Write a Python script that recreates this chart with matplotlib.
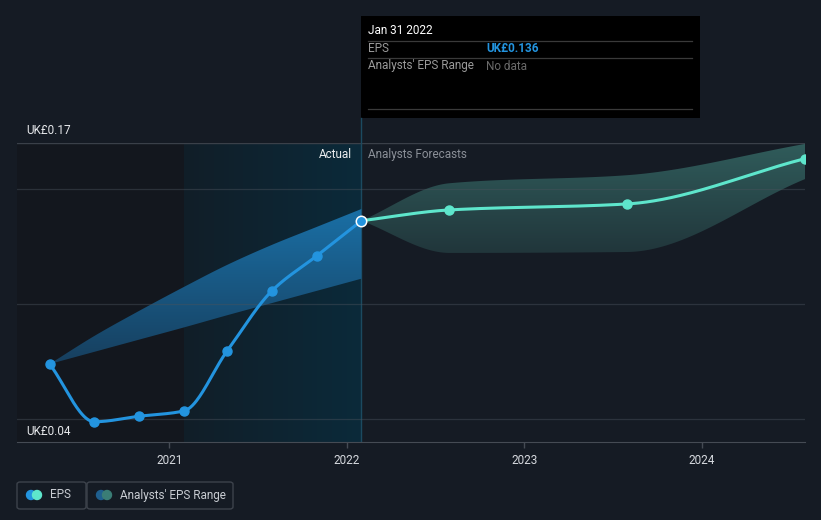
import numpy as np
import matplotlib
matplotlib.use("Agg")
import matplotlib.pyplot as plt
import matplotlib.dates as mdates
from matplotlib.colors import LinearSegmentedColormap
from matplotlib.patches import Rectangle, FancyBboxPatch, Ellipse
from matplotlib.lines import Line2D
from datetime import datetime

plt.rcParams['font.family'] = ['Roboto', 'DejaVu Sans']

# past EPS (actual)
past_dates = ["2020-04-30", "2020-07-31", "2020-10-31", "2021-01-31",
              "2021-04-30", "2021-07-31", "2021-10-31", "2022-01-31"]
past_eps = [0.0739, 0.0488, 0.0512, 0.0535, 0.0796, 0.1057, 0.1209, 0.1362]
past_hi = [0.0739, 0.0861, 0.0970, 0.1074, 0.1170, 0.1257, 0.1335, 0.1413]
past_lo = [0.0739, 0.0792, 0.0845, 0.0898, 0.0951, 0.1004, 0.1057, 0.1110]

# analysts forecasts
fc_dates = ["2022-01-31", "2022-07-31", "2023-07-31", "2024-07-31"]
fc_eps = [0.1362, 0.1409, 0.1435, 0.1632]
fc_hi = [0.1362, 0.1525, 0.1560, 0.1696]
fc_lo = [0.1362, 0.1222, 0.1226, 0.1543]

year_ticks = ["2021-01-01", "2022-01-01", "2023-01-01", "2024-01-01"]
year_labels = ["2021", "2022", "2023", "2024"]

BG = "#151b24"
BLUE = "#2394df"
TEAL = "#5ee6cc"


def d(s):
    return mdates.date2num(datetime.strptime(s, "%Y-%m-%d"))


def pchip(x, y, xs):
    x = np.asarray(x, float)
    y = np.asarray(y, float)
    h = np.diff(x)
    delta = np.diff(y) / h
    n = len(x)
    m = np.zeros(n)
    for k in range(1, n - 1):
        if delta[k - 1] * delta[k] > 0:
            w1 = 2 * h[k] + h[k - 1]
            w2 = h[k] + 2 * h[k - 1]
            m[k] = (w1 + w2) / (w1 / delta[k - 1] + w2 / delta[k])
    m[0] = delta[0]
    m[-1] = delta[-1]
    out = np.empty_like(xs)
    for i, xv in enumerate(xs):
        k = min(max(np.searchsorted(x, xv) - 1, 0), n - 2)
        t = (xv - x[k]) / h[k]
        h00 = 2 * t**3 - 3 * t**2 + 1
        h10 = t**3 - 2 * t**2 + t
        h01 = -2 * t**3 + 3 * t**2
        h11 = t**3 - t**2
        out[i] = h00 * y[k] + h10 * h[k] * m[k] + h01 * y[k + 1] + h11 * h[k] * m[k + 1]
    return out


def gradient_band(ax, xs, lo, hi, c_bottom, c_top, ylo, yhi):
    poly = ax.fill_between(xs, lo, hi, facecolor="none", lw=0)
    cm = LinearSegmentedColormap.from_list("b", [c_bottom, c_top])
    g = np.linspace(0, 1, 256).reshape(-1, 1)
    im = ax.imshow(g, cmap=cm, extent=[xs[0], xs[-1], ylo, yhi], aspect="auto",
                   origin="lower", zorder=2, interpolation="bilinear")
    im.set_clip_path(poly.get_paths()[0], transform=ax.transData)


px = np.array([d(s) for s in past_dates])
fx = np.array([d(s) for s in fc_dates])

fig = plt.figure(figsize=(8.21, 5.2), dpi=100, facecolor=BG)
ax = fig.add_axes([17 / 821, 78 / 520, 788 / 821, 299 / 520])
ax.set_facecolor(BG)
x0, x1 = d("2020-02-23"), d("2024-07-31")

# darker region before the last year
ax.axvspan(x0, d("2021-01-31"), color="#13171e", zorder=0, lw=0)
# gradient for the last actual year
cmap = LinearSegmentedColormap.from_list("g", ["#111e28", "#0b2a3a"])
grad = np.linspace(0, 1, 256).reshape(1, -1)
ax.imshow(grad, cmap=cmap, extent=[d("2021-01-31"), px[-1], 0.04, 0.17],
          aspect="auto", zorder=0.5, origin="lower", interpolation="bilinear")
ax.axvline(px[-1], color="#1b4a60", lw=1, zorder=1)

# bands
xs = np.linspace(px[0], px[-1], 300)
gradient_band(ax, xs, pchip(px, past_lo, xs), pchip(px, past_hi, xs),
              "#173f5e", "#1a6fa5", 0.074, 0.1413)
xf = np.linspace(fx[0], fx[-1], 300)
gradient_band(ax, xf, pchip(fx, fc_lo, xf), pchip(fx, fc_hi, xf),
              "#21363b", "#305c5b", 0.122, 0.1696)

# grid
for v in [0.05, 0.10, 0.15]:
    ax.axhline(v, color="#4a525c", lw=0.9, alpha=0.45, zorder=2.5)
ax.axhline(0.17, color="#3a4049", lw=1, zorder=1)

# lines
ax.plot(xs, pchip(px, past_eps, xs), color=BLUE, lw=2.2, zorder=3,
        solid_capstyle="round")
ax.plot(px[:-1], past_eps[:-1], "o", color=BLUE, ms=6.5, zorder=4)
ax.plot(xf, pchip(fx, fc_eps, xf), color=TEAL, lw=2.2, zorder=3)
ax.plot(fx[1:], fc_eps[1:], "o", color=TEAL, ms=6.5, zorder=4)
ax.plot(px[-1], past_eps[-1], "o", color=BLUE, ms=7.5, mec="white", mew=1.1, zorder=5)

ax.set_xlim(x0, x1)
ax.set_ylim(0.04, 0.17)

# axes styling
for s in ["top", "right", "left"]:
    ax.spines[s].set_visible(False)
ax.spines["bottom"].set_color("#454b54")
ax.set_yticks([])
ax.set_xticks([d(s) for s in year_ticks])
ax.set_xticklabels(year_labels)
ax.tick_params(axis="x", colors="#454b54", length=4, width=1, labelcolor="#d6d9de",
               labelsize=8.5, pad=5)

# text labels
ax.text(0.012, 1.02, "UK£0.17", transform=ax.transAxes, color="#e6e8eb",
        fontsize=8.5, va="bottom")
ax.text(0.012, 0.015, "UK£0.04", transform=ax.transAxes, color="#e6e8eb",
        fontsize=8.5, va="bottom")
fig.text(352 / 821, 1 - 154 / 520, "Actual", color="#eceef0", fontsize=8.5,
         ha="right", va="center")
fig.text(368 / 821, 1 - 154 / 520, "Analysts Forecasts", color="#8b9098",
         fontsize=8.5, ha="left", va="center")

# tooltip
W, H = 821, 520
fig.add_artist(Line2D([360.5 / W] * 2, [1 - 118 / H, 1 - 143 / H], color="#1b4a60", lw=1))
fig.add_artist(Rectangle((361 / W, 1 - 118 / H), 339 / W, 102 / H,
                         facecolor="black", edgecolor="none"))
fig.text(368 / W, 1 - 31 / H, "Jan 31 2022", color="white", fontsize=8.5, va="center")
for yy in [41, 58, 109]:
    fig.add_artist(Line2D([368 / W, 692 / W], [1 - yy / H] * 2, color="#3a3a3a", lw=0.9))
fig.text(368 / W, 1 - 49 / H, "EPS", color="#9a9a9a", fontsize=8.5, va="center")
fig.text(486 / W, 1 - 49 / H, "UK£0.136", color=BLUE, fontsize=8.5,
         va="center", fontweight="bold")
fig.text(368 / W, 1 - 66 / H, "Analysts' EPS Range", color="#9a9a9a",
         fontsize=8.5, va="center")
fig.text(486 / W, 1 - 66 / H, "No data", color="#6a6a6a", fontsize=8.5, va="center")

# legend
for (lx, lw_, c1, c2, label) in [(17, 69, BLUE, TEAL, "EPS"),
                                  (87, 146, "#1f5f8f", "#3a7d76", "Analysts' EPS Range")]:
    fig.add_artist(FancyBboxPatch((lx / W, 1 - 509 / H), lw_ / W, 27 / H,
                                  boxstyle="round,pad=0,rounding_size=0.004",
                                  facecolor="none", edgecolor="#3d434c", lw=1))
    fig.add_artist(Ellipse(((lx + 14) / W, 1 - 495 / H), 9 / W, 9 / H, color=c1))
    fig.add_artist(Ellipse(((lx + 20) / W, 1 - 495 / H), 9 / W, 9 / H, color=c2))
    fig.text((lx + 33) / W, 1 - 495 / H, label, color="#c8ccd2", fontsize=8.5, va="center")

fig.savefig("out.png", dpi=100, facecolor=BG)
